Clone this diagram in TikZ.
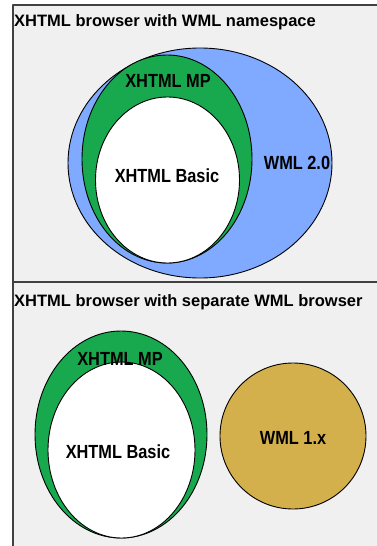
\documentclass[tikz,border=0pt]{standalone}
\usepackage{fontspec}
\setmainfont{Liberation Sans}
\newfontfamily\labelfont[FakeStretch=0.86]{Liberation Sans}
\definecolor{panelgray}{HTML}{F0F0F0}
\definecolor{wmlblue}{HTML}{80AAFF}
\definecolor{mpgreen}{HTML}{18A84E}
\definecolor{wmlgold}{HTML}{D4B04C}
\definecolor{framegray}{HTML}{404040}
\begin{document}
\begin{tikzpicture}[x=1pt, y=-1pt, line join=round, line cap=round,
		font=\bfseries\fontsize{16.5}{19}\selectfont,
		blob/.style={draw=black, line width=0.9pt},
		title/.style={anchor=base west, inner sep=0pt},
		tag/.style={inner sep=0pt, font=\labelfont\bfseries\fontsize{19}{21}\selectfont}]
	\useasboundingbox (0,0) rectangle (377,546);
	\fill[panelgray] (13,5) rectangle (377,546);
	\draw[framegray, line width=1.4pt] (13,546)--(13,5)--(377,5) (13,282)--(377,282);
	% upper panel
	\node[title] (ns) at (14,26) {XHTML browser with WML namespace};
	\path (200,163) coordinate (W2) (167,159) coordinate (MP) (167.5,180) coordinate (B);
	\filldraw[blob, fill=wmlblue] (W2) ellipse [x radius=132, y radius=115];
	\filldraw[blob, fill=mpgreen] (MP) ellipse [x radius=85, y radius=104];
	\filldraw[blob, fill=white] (B) ellipse [x radius=72, y radius=83];
	\node[tag] (mp1) at (168,81) {XHTML MP};
	\node[tag] (basic1) at (167,176) {XHTML Basic};
	\node[tag] (wml2) at (297,163) {WML 2.0};
	% lower panel
	\node[title] (sep) at (14,306) {XHTML browser with separate WML browser};
	\path (121,434.5) coordinate (MP2) (121.5,450) coordinate (B2) (293,436) coordinate (W1);
	\filldraw[blob, fill=mpgreen] (MP2) ellipse [x radius=86, y radius=103.5];
	\filldraw[blob, fill=white] (B2) ellipse [x radius=73.5, y radius=88];
	\filldraw[blob, fill=wmlgold] (W1) circle [radius=73];
	\node[tag] (mp2) at (120,359) {XHTML MP};
	\node[tag] (basic2) at (118,452) {XHTML Basic};
	\node[tag] (wml1) at (293,438) {WML 1.x};
\end{tikzpicture}
\end{document}
